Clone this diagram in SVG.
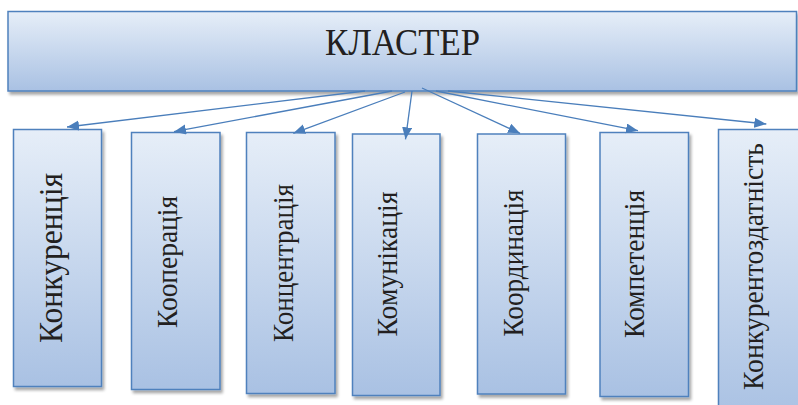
<svg xmlns="http://www.w3.org/2000/svg" width="798" height="405" viewBox="0 0 798 405">
<defs>
<linearGradient id="g" x1="0" y1="0" x2="0" y2="1">
<stop offset="0" stop-color="#e6eef8"/>
<stop offset="1" stop-color="#a9c1e3"/>
</linearGradient>
<filter id="sh" x="-10%" y="-10%" width="130%" height="130%">
<feGaussianBlur in="SourceAlpha" stdDeviation="1.5"/>
<feOffset dx="1.5" dy="3" result="b"/>
<feComponentTransfer><feFuncA type="linear" slope="0.35"/></feComponentTransfer>
<feMerge><feMergeNode/><feMergeNode in="SourceGraphic"/></feMerge>
</filter>
<marker id="ah" markerUnits="userSpaceOnUse" markerWidth="14" markerHeight="12" refX="12" refY="5" orient="auto">
<path d="M0,0 L12,5 L0,10 Z" fill="#4a7ebb"/>
</marker>
<style>
.box{fill:url(#g);stroke:#4f81bd;stroke-width:1.5;filter:url(#sh)}
.t{font-family:"Liberation Serif","Times New Roman",serif;fill:#231f20;text-anchor:middle}
.c{fill:none;stroke:#4a7ebb;stroke-width:1.3;marker-end:url(#ah)}
</style>
</defs>
<g id="cluster">
<rect class="box" x="8" y="11.5" width="788.5" height="79.5"/>
<text class="t" x="402.5" y="55" font-size="38" textLength="155" lengthAdjust="spacingAndGlyphs">КЛАСТЕР</text>
</g>
<g id="n1">
<rect class="box" x="13.5" y="129.5" width="88" height="257"/>
<text class="t" transform="translate(61.7,258) rotate(-90)" font-size="33" textLength="170" lengthAdjust="spacingAndGlyphs">Конкуренція</text>
</g>
<g id="n2">
<rect class="box" x="131.5" y="132.5" width="88.5" height="257"/>
<text class="t" transform="translate(176.7,262) rotate(-90)" font-size="30" textLength="132" lengthAdjust="spacingAndGlyphs">Кооперація</text>
</g>
<g id="n3">
<rect class="box" x="246.5" y="132.5" width="88.5" height="261"/>
<text class="t" transform="translate(292.7,263) rotate(-90)" font-size="30" textLength="158" lengthAdjust="spacingAndGlyphs">Концентрація</text>
</g>
<g id="n4">
<rect class="box" x="352.5" y="134" width="87.5" height="261.5"/>
<text class="t" transform="translate(397,264) rotate(-90)" font-size="30" textLength="145" lengthAdjust="spacingAndGlyphs">Комунікація</text>
</g>
<g id="n5">
<rect class="box" x="477.5" y="134" width="88" height="260"/>
<text class="t" transform="translate(523.3,263) rotate(-90)" font-size="30" textLength="147" lengthAdjust="spacingAndGlyphs">Координація</text>
</g>
<g id="n6">
<rect class="box" x="600" y="132.5" width="88.5" height="264"/>
<text class="t" transform="translate(644,264) rotate(-90)" font-size="30" textLength="148" lengthAdjust="spacingAndGlyphs">Компетенція</text>
</g>
<g id="n7">
<rect class="box" x="718.5" y="129.5" width="88" height="290"/>
<text class="t" transform="translate(762.7,266.5) rotate(-90)" font-size="30" textLength="247" lengthAdjust="spacingAndGlyphs">Конкурентоздатність</text>
</g>
<g id="connectors">
<line class="c" x1="365" y1="91" x2="67" y2="127"/>
<line class="c" x1="392" y1="91" x2="174" y2="131.7"/>
<line class="c" x1="405" y1="92" x2="293.3" y2="133.3"/>
<line class="c" x1="412" y1="91" x2="405.5" y2="139.3"/>
<line class="c" x1="422" y1="88" x2="520" y2="133.3"/>
<line class="c" x1="436" y1="91" x2="638" y2="130.7"/>
<line class="c" x1="448" y1="91" x2="766.3" y2="124"/>
</g>
</svg>
